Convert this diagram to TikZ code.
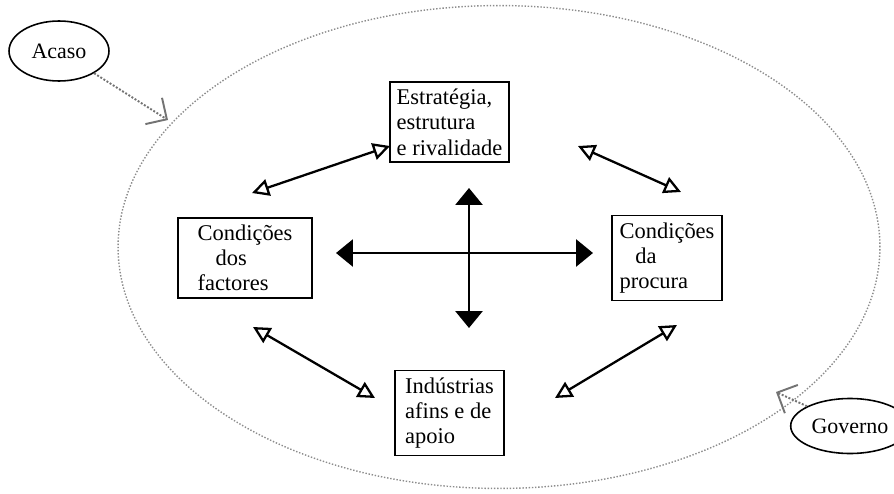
\documentclass[tikz,border=0pt]{standalone}
\usepackage{fontspec}
\setmainfont{Liberation Serif}
\usetikzlibrary{arrows.meta,shapes.geometric}

\begin{document}
\begin{tikzpicture}[x=0.02cm,y=-0.02cm,
  factor_box/.style={rectangle,draw,line width=1pt,align=left,inner sep=4pt,font=\fontsize{12.8}{14.4}\selectfont},
  outer_node/.style={ellipse,draw,line width=0.9pt,inner sep=2pt,font=\fontsize{12.5}{14.4}\selectfont},
  big_arrow/.style={line width=1.7pt,{Triangle[length=0.34cm,width=0.54cm]}-{Triangle[length=0.34cm,width=0.54cm]}},
  link_arrow/.style={line width=1.3pt,{Triangle[open,length=0.34cm,width=0.34cm]}-{Triangle[open,length=0.34cm,width=0.34cm]}},
  chance_arrow/.style={black!55,densely dotted,line width=1.1pt,-{Straight Barb[angle=90:0.44cm]}}]

  \useasboundingbox (0,0) rectangle (894,494);

  % grande elipse
  \node[ellipse,draw=black!45,densely dotted,line width=0.8pt,minimum width=15.24cm,minimum height=9.66cm] (diamante) at (499,247) {};

  % determinantes
  \node[factor_box,minimum width=2.26cm,minimum height=1.6cm] (estrategia) at (449.5,122) {Estratégia,\\estrutura\\e rivalidade};
  \node[factor_box,minimum width=2.68cm,minimum height=1.6cm] (factores) at (245,258) {Condições\\\hspace{0.8em}dos\\factores};
  \node[factor_box,minimum width=2.2cm,minimum height=1.68cm] (procura) at (667,258) {Condições\\\hspace{0.7em}da\\procura};
  \node[factor_box,minimum width=2.18cm,minimum height=1.52cm] (industrias) at (449.5,413) {Indústrias\\afins e de\\apoio};

  % variaveis externas
  \node[outer_node,minimum width=2cm,minimum height=1.2cm] (acaso) at (59,51) {Acaso};
  \node[outer_node,minimum width=1.9cm,minimum height=1.1cm] (governo) at (850,426) {Governo};

  % pontas das setas
  \coordinate (cross_w) at (336,253);
  \coordinate (cross_e) at (593,253);
  \coordinate (cross_n) at (469,188);
  \coordinate (cross_s) at (469,328);
  \coordinate (tl_a) at (252,193);
  \coordinate (tl_b) at (390,146);
  \coordinate (tr_a) at (578,146);
  \coordinate (tr_b) at (681,192);
  \coordinate (bl_a) at (253,327);
  \coordinate (bl_b) at (375,398);
  \coordinate (br_a) at (555,398);
  \coordinate (br_b) at (677,325);
  \coordinate (acaso_tip) at (168,120);
  \coordinate (governo_tip) at (776,392);

  \draw[big_arrow] (cross_w) -- (cross_e);
  \draw[big_arrow] (cross_n) -- (cross_s);

  \draw[link_arrow] (tl_a) -- (tl_b);
  \draw[link_arrow] (tr_a) -- (tr_b);
  \draw[link_arrow] (bl_a) -- (bl_b);
  \draw[link_arrow] (br_a) -- (br_b);

  \draw[chance_arrow] (acaso) -- (acaso_tip);
  \draw[chance_arrow] (governo) -- (governo_tip);
\end{tikzpicture}
\end{document}
